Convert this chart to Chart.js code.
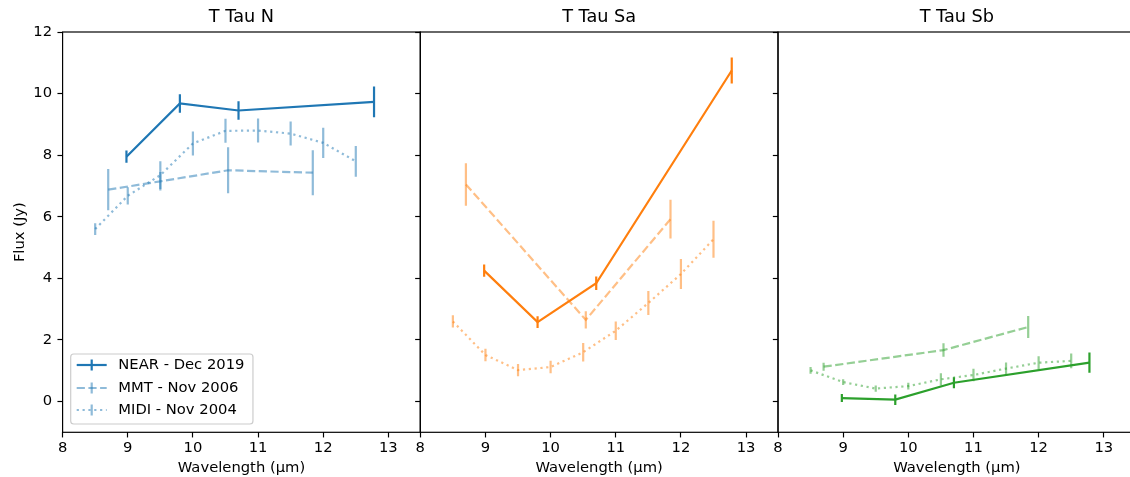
<!DOCTYPE html>
<html>
<head>
<meta charset="utf-8">
<script src="https://cdn.jsdelivr.net/npm/chart.js@4/dist/chart.umd.min.js"></script>
<style>
  html, body { margin: 0; padding: 0; background: #fff; overflow: hidden; }
  #fig { position: relative; width: 1130px; height: 477px; overflow: hidden; background: #fff; }
  #fig canvas { position: absolute; top: 0; }
</style>
</head>
<body>
<div id="fig">
  <canvas id="panelN" width="430" height="477" style="left:0px"></canvas>
  <canvas id="panelSa" width="390" height="477" style="left:400px"></canvas>
  <canvas id="panelSb" width="400" height="477" style="left:758px"></canvas>
</div>
<script>
// ---- data -------------------------------------------------------------
const panelTitles = ['T Tau N', 'T Tau Sa', 'T Tau Sb'];
const seriesNames = ['NEAR - Dec 2019', 'MMT - Nov 2006', 'MIDI - Nov 2004'];
const xTicks = [8, 9, 10, 11, 12, 13];
const yTicks = [0, 2, 4, 6, 8, 10, 12];

// wavelengths (µm)
const nearWl = [8.98, 9.8, 10.7, 12.78];
const mmtWl  = [8.7, 9.5, 10.54, 11.84];
const midiWl = [8.5, 9.0, 9.5, 10.0, 10.5, 11.0, 11.5, 12.0, 12.5];

// T Tau N fluxes (Jy) and 1-sigma errors
const nNear    = [7.95, 9.68, 9.45, 9.73];
const nNearErr = [0.2, 0.3, 0.3, 0.5];
const nMmt     = [6.88, 7.15, 7.51, 7.43];
const nMmtErr  = [0.67, 0.3, 0.75, 0.73];
const nMidi    = [5.6, 6.68, 7.35, 8.38, 8.79, 8.8, 8.7, 8.4, 7.8];
const nMidiErr = [0.19, 0.28, 0.45, 0.39, 0.39, 0.39, 0.39, 0.49, 0.5];

// T Tau Sa
const saNear    = [4.25, 2.58, 3.84, 10.75];
const saNearErr = [0.2, 0.19, 0.22, 0.42];
const saMmt     = [7.05, null, 2.65, 5.92];
const saMmtErr  = [0.69, null, 0.28, 0.63];
const saMidi    = [2.6, 1.51, 1.02, 1.12, 1.6, 2.3, 3.2, 4.14, 5.27];
const saMidiErr = [0.2, 0.2, 0.2, 0.2, 0.3, 0.3, 0.39, 0.49, 0.6];

// T Tau Sb
const sbNear    = [0.11, 0.06, 0.61, 1.26];
const sbNearErr = [0.13, 0.17, 0.18, 0.33];
const sbMmt     = [1.13, null, 1.67, 2.42];
const sbMmtErr  = [0.13, null, 0.22, 0.36];
const sbMidi    = [1.01, 0.63, 0.42, 0.5, 0.72, 0.86, 1.07, 1.26, 1.32];
const sbMidiErr = [0.11, 0.09, 0.1, 0.11, 0.2, 0.2, 0.2, 0.21, 0.24];

// ---- styling ----------------------------------------------------------
const FONT = "'DejaVu Sans', 'Liberation Sans', sans-serif";
const FS = 14.75;          // tick / label / legend text
const TITLE_FS = 17.7;     // panel titles
const LW = 2.2;
const AX_LW = 1.18;
const TICK_LEN = 5.15;
const DASHED = [8.2, 3.5];
const DOTTED = [2.2, 3.64];
const BLUE = [31, 119, 180], ORANGE = [255, 127, 14], GREEN = [44, 160, 44];
const rgba = (c, a) => `rgba(${c[0]},${c[1]},${c[2]},${a})`;

function series(label, wl, flux, err, color, alpha, dash) {
  const pts = [], errs = [];
  wl.forEach((x, i) => {
    if (flux[i] !== null) { pts.push({ x: x, y: flux[i] }); errs.push(err[i]); }
  });
  return {
    label: label, data: pts, yErr: errs,
    borderColor: rgba(color, alpha), backgroundColor: rgba(color, alpha),
    borderWidth: LW, borderDash: dash, pointRadius: 0, pointHoverRadius: 0,
    fill: false, tension: 0, borderCapStyle: 'butt'
  };
}

// vertical error bars drawn through the chart's own scales
const errorBars = {
  id: 'errorBars',
  afterDatasetsDraw(chart) {
    const { ctx, chartArea } = chart;
    const xs = chart.scales.x, ys = chart.scales.y;
    ctx.save();
    ctx.beginPath();
    ctx.rect(chartArea.left, chartArea.top, chartArea.right - chartArea.left, chartArea.bottom - chartArea.top);
    ctx.clip();
    chart.data.datasets.forEach(ds => {
      ctx.strokeStyle = ds.borderColor;
      ctx.lineWidth = LW;
      ctx.setLineDash([]);
      ds.data.forEach((p, i) => {
        const e = ds.yErr[i];
        const px = xs.getPixelForValue(p.x);
        ctx.beginPath();
        ctx.moveTo(px, ys.getPixelForValue(p.y - e));
        ctx.lineTo(px, ys.getPixelForValue(p.y + e));
        ctx.stroke();
      });
    });
    ctx.restore();
  }
};

// full box around each panel
const frame = {
  id: 'frame',
  afterDatasetsDraw(chart) {
    const { ctx, chartArea: a } = chart;
    ctx.save();
    ctx.strokeStyle = '#000';
    ctx.lineWidth = AX_LW;
    ctx.setLineDash([]);
    ctx.strokeRect(a.left, a.top, a.right - a.left, a.bottom - a.top);
    ctx.restore();
  }
};

// legend box in the lower-left corner of the first panel
const legendBox = {
  id: 'legendBox',
  afterDraw(chart) {
    const { ctx, chartArea: a } = chart;
    const styles = [[BLUE, 1, []], [BLUE, 0.5, DASHED], [BLUE, 0.5, DOTTED]];
    ctx.save();
    ctx.font = `${FS}px ${FONT}`;
    const textW = Math.max(...seriesNames.map(s => ctx.measureText(s).width));
    const left = a.left + 8.1, h = 70;
    const top = a.bottom - 8.3 - h;
    const textX = left + 47.6;
    const w = textX + textW + 8.5 - left;
    // box
    const r = 3;
    ctx.beginPath();
    ctx.moveTo(left + r, top);
    ctx.arcTo(left + w, top, left + w, top + h, r);
    ctx.arcTo(left + w, top + h, left, top + h, r);
    ctx.arcTo(left, top + h, left, top, r);
    ctx.arcTo(left, top, left + w, top, r);
    ctx.closePath();
    ctx.fillStyle = 'rgba(255,255,255,0.8)';
    ctx.fill();
    ctx.strokeStyle = '#cccccc';
    ctx.lineWidth = AX_LW;
    ctx.stroke();
    // entries
    const rows = [11, 34, 56];
    seriesNames.forEach((name, i) => {
      const y = top + rows[i];
      const [c, al, dash] = styles[i];
      ctx.strokeStyle = rgba(c, al);
      ctx.lineWidth = LW;
      ctx.setLineDash(dash);
      ctx.beginPath();
      ctx.moveTo(left + 6, y);
      ctx.lineTo(left + 36, y);
      ctx.stroke();
      ctx.setLineDash([]);
      ctx.beginPath();
      ctx.moveTo(left + 21, y - 5.5);
      ctx.lineTo(left + 21, y + 5.5);
      ctx.stroke();
      ctx.fillStyle = '#000';
      ctx.textBaseline = 'middle';
      ctx.textAlign = 'left';
      ctx.fillText(name, textX, y);
    });
    ctx.restore();
  }
};

function makePanel(id, title, near, nearErr, mmt, mmtErr, midi, midiErr, color, geo) {
  const plugins = [errorBars, frame];
  if (geo.legend) plugins.push(legendBox);
  return new Chart(document.getElementById(id), {
    type: 'line',
    data: {
      datasets: [
        series(seriesNames[0], nearWl, near, nearErr, color, 1, []),
        series(seriesNames[1], mmtWl, mmt, mmtErr, color, 0.5, DASHED),
        series(seriesNames[2], midiWl, midi, midiErr, color, 0.5, DOTTED)
      ]
    },
    options: {
      responsive: false,
      animation: false,
      devicePixelRatio: 1,
      events: [],
      layout: { padding: { left: 0, right: geo.padRight, top: 0, bottom: 0 } },
      plugins: {
        legend: { display: false },
        tooltip: { enabled: false },
        title: {
          display: true, text: title, fullSize: false, color: '#000',
          font: { family: FONT, size: TITLE_FS, weight: 'normal', lineHeight: 1.2 },
          padding: { top: 6.4, bottom: 4.36 }
        }
      },
      scales: {
        x: {
          type: 'linear', min: 8, max: 13.49,
          afterBuildTicks: s => { s.ticks = xTicks.map(v => ({ value: v })); },
          afterFit: s => { s.height = 44.7; },
          border: { display: false },
          grid: { display: true, drawOnChartArea: false, drawTicks: true, tickLength: TICK_LEN, tickWidth: AX_LW, tickColor: '#000' },
          ticks: { color: '#000', font: { family: FONT, size: FS }, padding: 1.7, maxRotation: 0, autoSkip: false },
          title: {
            display: true, text: 'Wavelength (µm)', color: '#000',
            font: { family: FONT, size: FS }, padding: { top: 0, bottom: 0.2 }
          }
        },
        y: {
          type: 'linear', min: -1, max: 12,
          afterBuildTicks: s => { s.ticks = yTicks.map(v => ({ value: v })); },
          afterFit: s => { s.width = geo.yWidth; },
          border: { display: false },
          grid: { display: true, drawOnChartArea: false, drawTicks: true, tickLength: TICK_LEN, tickWidth: AX_LW, tickColor: '#000' },
          ticks: { display: geo.yLabels, color: '#000', font: { family: FONT, size: FS }, padding: 5.4 },
          title: {
            display: geo.yLabels, text: 'Flux (Jy)', color: '#000',
            font: { family: FONT, size: FS }, padding: { top: 11.15, bottom: 0 }
          }
        }
      }
    },
    plugins: plugins
  });
}

makePanel('panelN', panelTitles[0], nNear, nNearErr, nMmt, nMmtErr, nMidi, nMidiErr, BLUE,
  { yWidth: 62.6, padRight: 9.7, yLabels: true, legend: true });
makePanel('panelSa', panelTitles[1], saNear, saNearErr, saMmt, saMmtErr, saMidi, saMidiErr, ORANGE,
  { yWidth: 20.3, padRight: 12, yLabels: false, legend: false });
makePanel('panelSb', panelTitles[2], sbNear, sbNearErr, sbMmt, sbMmtErr, sbMidi, sbMidiErr, GREEN,
  { yWidth: 20, padRight: 22.3, yLabels: false, legend: false });
</script>
</body>
</html>
